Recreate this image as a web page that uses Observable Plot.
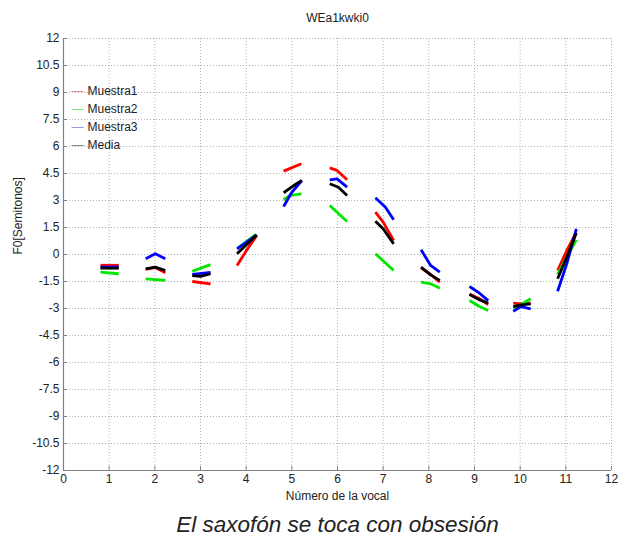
<!DOCTYPE html>
<html>
<head>
<meta charset="utf-8">
<script src="https://cdn.jsdelivr.net/npm/d3@7"></script>
<script src="https://cdn.jsdelivr.net/npm/@observablehq/plot@0.6"></script>
<style>
  html, body { margin: 0; padding: 0; background: #fff; }
  #wrap { position: relative; width: 621px; height: 537px; font-family: "Liberation Sans", Arial, sans-serif; }
</style>
</head>
<body>
<div id="wrap"></div>
<script>
// ---- data ----
const seriesNames = ["Muestra1", "Muestra2", "Muestra3", "Media"];
const seriesColors = ["#ff0000", "#00e600", "#0000ff", "#000000"];
const legendColors = ["#f08a8a", "#7ee87e", "#9a9ae8", "#8a8a8a"];
const xTicks = [0, 1, 2, 3, 4, 5, 6, 7, 8, 9, 10, 11, 12];
const yTicks = [-12, -10.5, -9, -7.5, -6, -4.5, -3, -1.5, 0, 1.5, 3, 4.5, 6, 7.5, 9, 10.5, 12];
const titleText = "WEa1kwki0";
const xLabel = "Número de la vocal";
const yLabel = "F0[Semitonos]";
const captionText = "El saxofón se toca con obsesión";

// each series: list of segments (one per vowel), each segment a list of [x, y]
const muestra1 = [
  [[0.81,-0.60],[1.21,-0.60]],
  [[1.80,-0.82],[2.01,-0.72],[2.23,-1.02]],
  [[2.82,-1.50],[3.22,-1.63]],
  [[3.80,-0.61],[4.00,0.20],[4.23,1.05]],
  [[4.82,4.63],[5.21,5.04]],
  [[5.83,4.81],[5.99,4.67],[6.21,4.15]],
  [[6.83,2.35],[7.00,1.80],[7.23,0.78]],
  [[7.83,-0.74],[8.04,-1.11],[8.24,-1.54]],
  [[8.89,-2.19],[9.11,-2.46],[9.30,-2.78]],
  [[9.85,-2.70],[10.02,-2.74],[10.23,-2.70]],
  [[10.82,-0.89],[11.02,0.22],[11.21,1.15]]
];
const muestra2 = [
  [[0.81,-0.98],[1.21,-1.07]],
  [[1.80,-1.35],[2.23,-1.44]],
  [[2.82,-0.93],[3.22,-0.56]],
  [[3.82,0.37],[4.21,1.10]],
  [[4.82,3.04],[4.96,3.28],[5.21,3.37]],
  [[5.83,2.72],[6.21,1.83]],
  [[6.83,0.04],[7.23,-0.89]],
  [[7.83,-1.54],[8.04,-1.63],[8.24,-1.87]],
  [[8.89,-2.56],[9.11,-2.89],[9.30,-3.11]],
  [[9.85,-2.96],[10.02,-2.78],[10.23,-2.46]],
  [[10.82,-1.11],[11.02,-0.15],[11.23,0.81]]
];
const muestra3 = [
  [[0.81,-0.70],[1.21,-0.70]],
  [[1.80,-0.24],[2.01,0.04],[2.23,-0.24]],
  [[2.82,-1.10],[3.22,-1.00]],
  [[3.80,0.31],[4.23,1.09]],
  [[4.82,2.67],[5.00,3.46],[5.22,4.11]],
  [[5.83,4.15],[5.99,4.20],[6.21,3.74]],
  [[6.83,3.15],[7.05,2.63],[7.23,1.93]],
  [[7.83,0.26],[8.04,-0.61],[8.24,-0.98]],
  [[8.89,-1.78],[9.11,-2.15],[9.30,-2.56]],
  [[9.85,-3.15],[10.02,-2.89],[10.23,-3.02]],
  [[10.82,-2.04],[11.02,-0.52],[11.23,1.43]]
];
const media = [
  [[0.81,-0.76],[1.21,-0.76]],
  [[1.80,-0.80],[2.01,-0.70],[2.23,-0.89]],
  [[2.82,-1.17],[3.00,-1.22],[3.22,-1.07]],
  [[3.80,0.04],[4.23,1.09]],
  [[4.82,3.43],[5.04,3.83],[5.22,4.11]],
  [[5.83,3.93],[6.02,3.74],[6.21,3.28]],
  [[6.83,1.85],[7.00,1.43],[7.23,0.59]],
  [[7.83,-0.70],[8.04,-1.13],[8.24,-1.44]],
  [[8.89,-2.22],[9.11,-2.52],[9.30,-2.70]],
  [[9.85,-2.89],[10.02,-2.80],[10.23,-2.74]],
  [[10.82,-1.35],[11.02,-0.15],[11.23,1.19]]
];
const allSeries = [muestra1, muestra2, muestra3, media];

// ---- build rows ----
const rows = [];
allSeries.forEach((segs, si) => {
  segs.forEach((seg, gi) => {
    seg.forEach(([x, y]) => rows.push({series: seriesNames[si], key: si + "-" + gi, x, y}));
  });
});

const axisColor = "#808080";
const gridColor = "#b0b0b0";
const W = 621, H = 537, mL = 63, mR = 10, mT = 38, mB = 67;

// legend marks (pixel offsets from the frame's top-left corner)
const legendMarks = seriesNames.flatMap((name, i) => [
  Plot.text([name], {text: d => d, frameAnchor: "top-left", dx: 24, dy: 53 + i * 18, lineAnchor: "middle", textAnchor: "start", fontSize: 12, fill: "#222"}),
  Plot.text(["\u2014"], {text: d => d, frameAnchor: "top-left", dx: 8, dy: 53 + i * 18, lineAnchor: "middle", textAnchor: "start", fontSize: 12, fill: legendColors[i]})
]);

const chart = Plot.plot({
  width: W, height: H,
  marginLeft: mL, marginRight: mR, marginTop: mT, marginBottom: mB,
  style: {fontFamily: "'Liberation Sans', Arial, sans-serif", fontSize: "12px", background: "white", color: "#222"},
  x: {domain: [0, 12]},
  y: {domain: [-12, 12]},
  color: {domain: seriesNames, range: seriesColors},
  marks: [
    Plot.gridX(xTicks, {stroke: gridColor, strokeOpacity: 1, strokeDasharray: "1,2"}),
    Plot.gridY(yTicks, {stroke: gridColor, strokeOpacity: 1, strokeDasharray: "1,2"}),
    Plot.ruleX([0], {stroke: axisColor, strokeWidth: 1.2}),
    Plot.ruleY([-12], {stroke: axisColor, strokeWidth: 1.2}),
    Plot.tickY(yTicks, {y: d => d, stroke: axisColor, insetRight: W - mL - mR - 4}),
    Plot.tickX(xTicks, {x: d => d, stroke: axisColor, insetTop: H - mT - mB - 4}),
    Plot.axisY(yTicks, {tickSize: 0, tickPadding: 4, tickFormat: d => String(d), label: null, fontSize: 12}),
    Plot.axisX(xTicks, {tickSize: 0, tickPadding: 4, tickFormat: d => String(d), label: null, fontSize: 12}),
    Plot.line(rows, {x: "x", y: "y", z: "key", stroke: "series", strokeWidth: 2.8, strokeLinecap: "butt", strokeLinejoin: "round"}),
    ...legendMarks,
    Plot.text([titleText], {text: d => d, frameAnchor: "top", dy: -20, lineAnchor: "middle", fontSize: 12}),
    Plot.text([xLabel], {text: d => d, frameAnchor: "bottom", dy: 26, lineAnchor: "middle", fontSize: 12}),
    Plot.text([yLabel], {text: d => d, frameAnchor: "left", dx: -45, rotate: -90, fontSize: 12}),
    Plot.text([captionText], {text: d => d, frameAnchor: "bottom", dy: 54, lineAnchor: "middle", fontSize: 22.5, fontStyle: "italic", fill: "#222"})
  ]
});
document.getElementById("wrap").appendChild(chart);
</script>
</body>
</html>
